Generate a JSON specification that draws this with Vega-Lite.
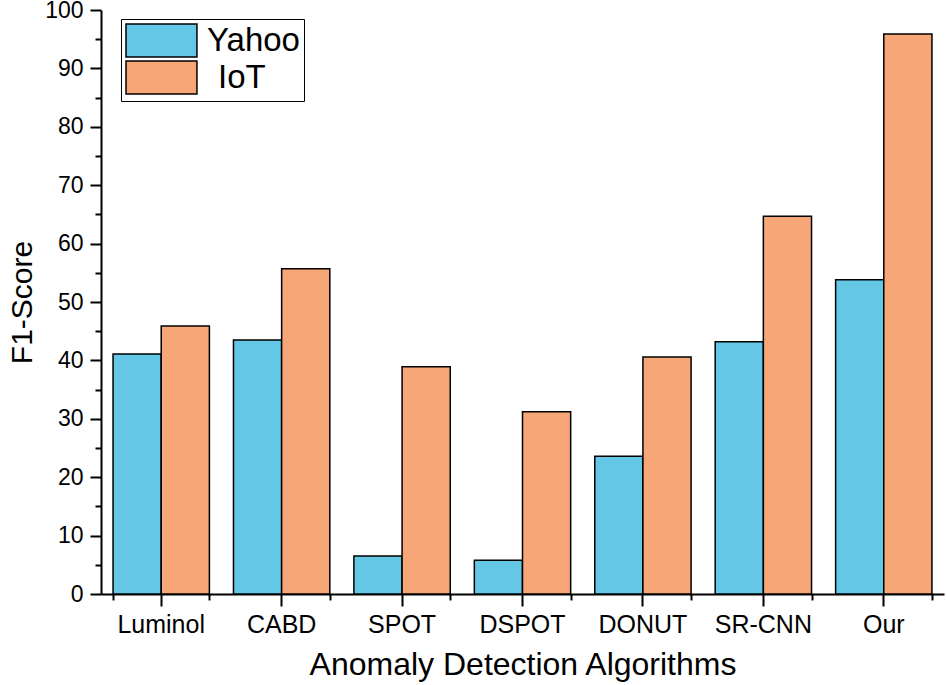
{
  "$schema": "https://vega.github.io/schema/vega-lite/v6.json",
  "width": 843,
  "height": 584,
  "autosize": {"type": "none"},
  "padding": {"left": 101, "top": 10, "right": 2, "bottom": 91},
  "background": "white",
  "config": {
    "font": "Liberation Sans",
    "view": {"stroke": null},
    "axis": {"domainColor": "black", "domainWidth": 2, "tickColor": "black", "tickWidth": 2, "labelColor": "black", "titleColor": "black", "grid": false, "titleFontWeight": "normal"}
  },
  "data": {
    "values": [
      {"algo": "Luminol", "dataset": "Yahoo", "f1": 41.1},
      {"algo": "Luminol", "dataset": "IoT", "f1": 45.9},
      {"algo": "CABD", "dataset": "Yahoo", "f1": 43.5},
      {"algo": "CABD", "dataset": "IoT", "f1": 55.7},
      {"algo": "SPOT", "dataset": "Yahoo", "f1": 6.5},
      {"algo": "SPOT", "dataset": "IoT", "f1": 38.9},
      {"algo": "DSPOT", "dataset": "Yahoo", "f1": 5.8},
      {"algo": "DSPOT", "dataset": "IoT", "f1": 31.2},
      {"algo": "DONUT", "dataset": "Yahoo", "f1": 23.6},
      {"algo": "DONUT", "dataset": "IoT", "f1": 40.6},
      {"algo": "SR-CNN", "dataset": "Yahoo", "f1": 43.2},
      {"algo": "SR-CNN", "dataset": "IoT", "f1": 64.7},
      {"algo": "Our", "dataset": "Yahoo", "f1": 53.8},
      {"algo": "Our", "dataset": "IoT", "f1": 95.9}
    ]
  },
  "resolve": {"axis": {"x": "independent", "y": "independent"}},
  "layer": [
    {
      "mark": {"type": "bar", "stroke": "black", "strokeWidth": 1.5},
      "encoding": {
        "x": {
          "field": "algo", "type": "nominal", "sort": null,
          "scale": {"paddingInner": 0.2, "paddingOuter": 0.1},
          "axis": {"orient": "bottom", "title": "Anomaly Detection Algorithms", "titleFontSize": 32, "titlePadding": 12, "labelFontSize": 25, "labelAngle": 0, "labelPadding": 6, "tickSize": 12}
        },
        "xOffset": {"field": "dataset", "type": "nominal", "sort": ["Yahoo", "IoT"], "scale": {"paddingInner": 0, "paddingOuter": 0}},
        "y": {
          "field": "f1", "type": "quantitative",
          "scale": {"domain": [0, 100], "nice": false},
          "axis": {"orient": "left", "title": "F1-Score", "titleFontSize": 30, "titlePadding": 7, "labelFontSize": 23, "labelPadding": 7, "tickSize": 11, "values": [0, 10, 20, 30, 40, 50, 60, 70, 80, 90, 100]}
        },
        "color": {
          "field": "dataset", "type": "nominal",
          "scale": {"domain": ["Yahoo", "IoT"], "range": ["#63C7E5", "#F7A677"]},
          "legend": {
            "orient": "none", "legendX": 20, "legendY": 9, "title": null,
            "strokeColor": "black", "fillColor": "white", "padding": 4,
            "symbolType": "M-1,-1H3.3V1H-1Z", "symbolSize": 1089,
            "symbolStrokeColor": "black", "symbolStrokeWidth": 1.5, "symbolOpacity": 1,
            "labelFontSize": 33, "labelOffset": 47, "rowPadding": -5, "labelColor": "black",
            "encode": {"labels": {"update": {"dx": {"signal": "datum.value == 'IoT' ? 11 : 0"}}}}
          }
        }
      }
    },
    {
      "mark": {"type": "bar", "opacity": 0},
      "encoding": {
        "x": {
          "field": "algo", "type": "nominal", "sort": null,
          "axis": {"orient": "bottom", "title": null, "labels": false, "domain": false, "tickSize": 6, "tickBand": "extent"}
        },
        "y": {
          "field": "f1", "type": "quantitative",
          "axis": {"orient": "left", "title": null, "labels": false, "domain": false, "tickSize": 6, "values": [5, 15, 25, 35, 45, 55, 65, 75, 85, 95]}
        }
      }
    }
  ]
}
